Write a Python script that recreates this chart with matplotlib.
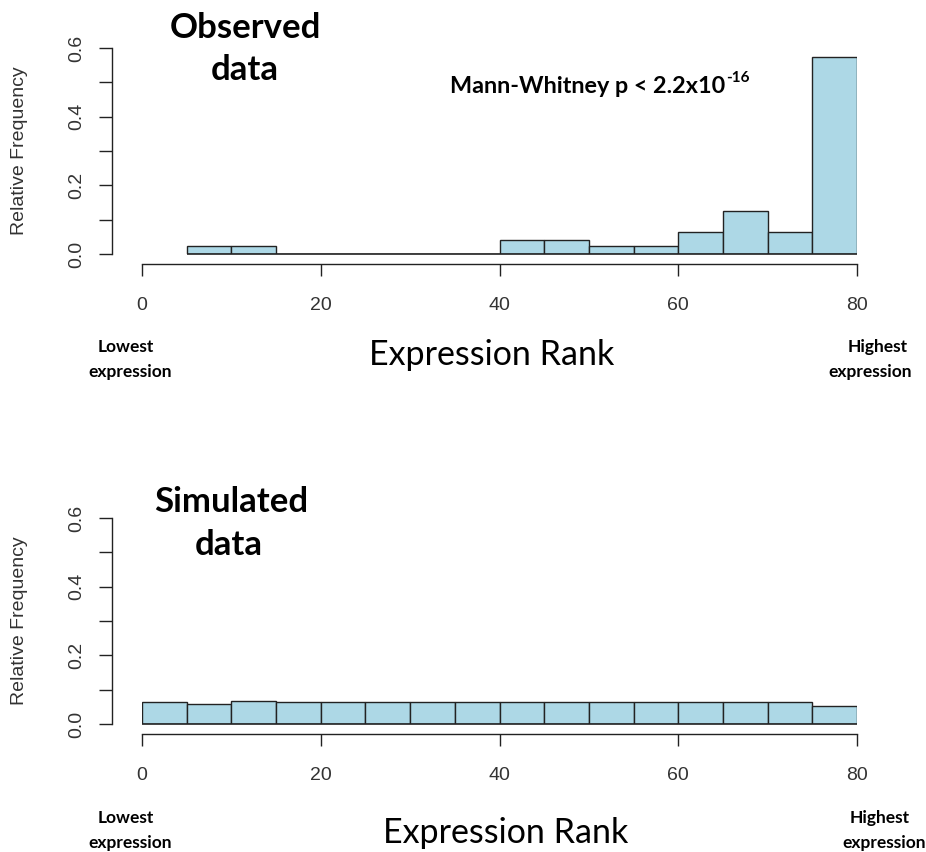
import matplotlib
matplotlib.use("Agg")
import matplotlib.pyplot as plt
import numpy as np

# ---- data ----
obs_edges = [5, 10, 15, 20, 25, 30, 35, 40, 45, 50, 55, 60, 65, 70, 75, 80]
obs_freq = [0.022, 0.022, 0.0, 0.0, 0.0, 0.0, 0.0, 0.041, 0.041, 0.022, 0.022,
            0.063, 0.126, 0.063, 0.573]
sim_edges = [0, 5, 10, 15, 20, 25, 30, 35, 40, 45, 50, 55, 60, 65, 70, 75, 80]
sim_freq = [0.063, 0.059, 0.068, 0.063, 0.063, 0.063, 0.063, 0.063, 0.063,
            0.063, 0.063, 0.063, 0.063, 0.063, 0.063, 0.052]
x_ticks = [0, 20, 40, 60, 80]
y_ticks = [0.0, 0.1, 0.2, 0.3, 0.4, 0.5, 0.6]
y_labels = ["0.0", "", "0.2", "", "0.4", "", "0.6"]

W, H = 926, 852
fig = plt.figure(figsize=(W / 100, H / 100), dpi=100)
fig.patch.set_facecolor("white")

TEXTFONT = ["Lato", "DejaVu Sans"]
AXFONT = ["Liberation Sans", "DejaVu Sans"]
EDGE = "#222222"


def fx(x):
    return x / W


def fy(y):
    return 1 - y / H


def make_axes(top_px, bottom_px, edges, freq):
    left_px, right_px = 142, 857
    ax = fig.add_axes([fx(left_px), fy(bottom_px), (right_px - left_px) / W,
                       (bottom_px - top_px) / H])
    lefts = edges[:-1]
    widths = np.diff(edges)
    ax.bar(lefts, freq, width=widths, align="edge", color="#ADD8E6",
           edgecolor=EDGE, linewidth=1.0)
    ax.plot([edges[0], edges[-1]], [0, 0], color=EDGE, linewidth=1.2,
            solid_capstyle="butt", clip_on=False, zorder=3)
    ax.set_xlim(0, 80)
    ax.set_ylim(0, 0.6)
    for s in ["top", "right"]:
        ax.spines[s].set_visible(False)
    ax.spines["left"].set_position(("outward", 21.6))
    ax.spines["left"].set_bounds(0, 0.6)
    ax.spines["bottom"].set_position(("outward", 7.2))
    ax.spines["bottom"].set_bounds(0, 80)
    for s in ["left", "bottom"]:
        ax.spines[s].set_color(EDGE)
        ax.spines[s].set_linewidth(1.0)
    ax.set_xticks(x_ticks)
    ax.set_xticklabels([str(t) for t in x_ticks], fontfamily=AXFONT,
                       fontsize=14, color="#333333")
    ax.set_yticks(y_ticks)
    ax.set_yticklabels(y_labels, fontfamily=AXFONT, fontsize=14,
                       color="#333333", rotation=90, va="center")
    ax.tick_params(axis="x", length=8.6, width=1.0, color=EDGE, pad=15)
    ax.tick_params(axis="y", length=9.4, width=1.0, color=EDGE, pad=10)
    ax.patch.set_alpha(0)
    return ax


ax1 = make_axes(48, 254, obs_edges, obs_freq)
ax2 = make_axes(518, 724, sim_edges, sim_freq)

# y-axis labels
for yc in [151, 621]:
    fig.text(fx(20), fy(yc), "Relative Frequency", rotation=90, ha="center",
             va="center", fontfamily=AXFONT, fontsize=14, color="#333333")

# panel titles
fig.text(fx(245), fy(28), "Observed", ha="center", va="center",
         fontfamily=TEXTFONT, fontweight="bold", fontsize=25)
fig.text(fx(245), fy(70), "data", ha="center", va="center",
         fontfamily=TEXTFONT, fontweight="bold", fontsize=25)
fig.text(fx(231), fy(502), "Simulated", ha="center", va="center",
         fontfamily=TEXTFONT, fontweight="bold", fontsize=25)
fig.text(fx(229), fy(545), "data", ha="center", va="center",
         fontfamily=TEXTFONT, fontweight="bold", fontsize=25)

# Mann-Whitney annotation
mw = fig.text(fx(450), fy(93), "Mann-Whitney p < 2.2x10", ha="left",
              va="baseline", fontfamily=TEXTFONT, fontweight="bold",
              fontsize=16.8)
fig.canvas.draw()
bb = mw.get_window_extent(renderer=fig.canvas.get_renderer())
fig.text(bb.x1 / W + 0.001, fy(82), "-16", ha="left", va="baseline",
         fontfamily=TEXTFONT, fontweight="bold", fontsize=11)

# x-axis annotations
for (ly, ry, er_x, er_y, hx, ex) in [(347, 372, 492, 355, 878, 870),
                                       (818, 843, 506, 833, 880, 884)]:
    fig.text(fx(126), fy(ly), "Lowest", ha="center", va="center",
             fontfamily=TEXTFONT, fontweight="bold", fontsize=12.5)
    fig.text(fx(130), fy(ry), "expression", ha="center", va="center",
             fontfamily=TEXTFONT, fontweight="bold", fontsize=12.5)
    fig.text(fx(er_x), fy(er_y), "Expression Rank", ha="center", va="center",
             fontfamily=TEXTFONT, fontsize=24.5)
    fig.text(fx(hx), fy(ly), "Highest", ha="center", va="center",
             fontfamily=TEXTFONT, fontweight="bold", fontsize=12.5)
    fig.text(fx(ex), fy(ry), "expression", ha="center", va="center",
             fontfamily=TEXTFONT, fontweight="bold", fontsize=12.5)

fig.savefig("out.png", dpi=100, facecolor="white")
